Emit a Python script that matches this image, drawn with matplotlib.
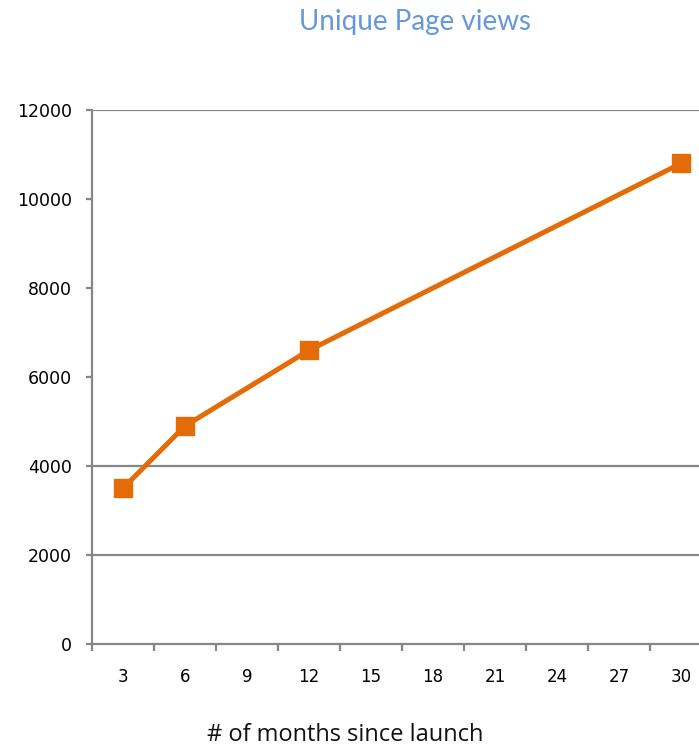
import matplotlib
matplotlib.use("Agg")
import matplotlib.pyplot as plt
import numpy as np

# categories on the x axis (months since launch)
months = [3, 6, 9, 12, 15, 18, 21, 24, 27, 30]
data_months = [3, 6, 12, 30]
page_views = [3500, 4900, 6600, 10800]

y_ticks = [0, 2000, 4000, 6000, 8000, 10000, 12000]
grid_values = [2000, 4000, 12000]  # only these gridlines show in the original

gray = "#878787"
orange = "#E36C09"

fig = plt.figure(figsize=(6.99, 7.48), dpi=100)
# the plot area runs past the right edge of the picture, as in the original
ax = fig.add_axes([92 / 699, 104 / 748, 620 / 699, 534 / 748])

xpos = [months.index(m) for m in data_months]
ax.plot(xpos, page_views, color=orange, lw=3.6, marker="s", ms=13.5,
        solid_joinstyle="round", zorder=3)

ax.set_xlim(-0.5, len(months) - 0.5)
ax.set_ylim(0, 12000)

for v in grid_values:
    ax.axhline(v, color=gray, lw=1.6, zorder=1)

ax.set_xticks(range(len(months)))
ax.set_xticklabels([str(m) for m in months])
ax.set_xticks(np.arange(-0.5, len(months)), minor=True)
ax.tick_params(axis="x", which="major", length=0, pad=17, labelsize=12)
ax.tick_params(axis="x", which="minor", length=5, width=1.6, color=gray,
               direction="out")

ax.set_yticks(y_ticks)
ax.tick_params(axis="y", length=4.5, width=1.6, color=gray, pad=10,
               labelsize=12.5)

for side in ["top", "right"]:
    ax.spines[side].set_visible(False)
for side in ["left", "bottom"]:
    ax.spines[side].set_color(gray)
    ax.spines[side].set_linewidth(1.6)

fig.text(415 / 699, 1 - 22 / 748, "Unique Page views", color="#6597DA",
         fontsize=20, ha="center", va="center", family="Lato")
fig.text(345 / 699, 1 - 735 / 748, "# of months since launch", color="#111111",
         fontsize=17, ha="center", va="center", family="Open Sans")

fig.savefig("out.png", dpi=100)
